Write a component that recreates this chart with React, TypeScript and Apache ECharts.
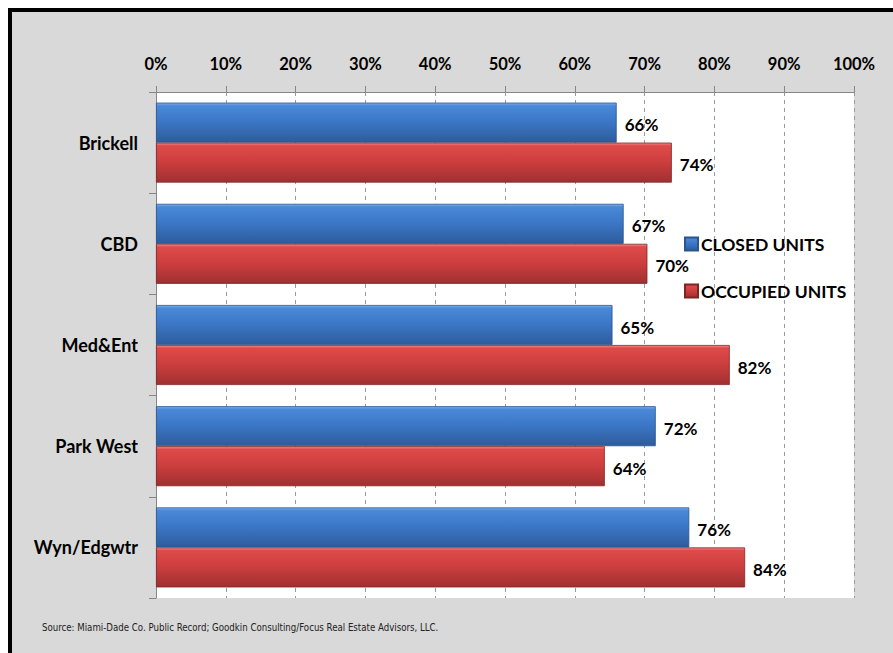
import React, { useEffect, useRef } from "react";
import * as echarts from "echarts";

const categories = ["Brickell", "CBD", "Med&Ent", "Park West", "Wyn/Edgwtr"];
const closedUnits = [0.66, 0.67, 0.654, 0.716, 0.764];
const occupiedUnits = [0.739, 0.704, 0.822, 0.643, 0.844];
const xTicks = [0, 0.1, 0.2, 0.3, 0.4, 0.5, 0.6, 0.7, 0.8, 0.9, 1];
const seriesNames = ["CLOSED UNITS", "OCCUPIED UNITS"];
const sourceText =
  "Source: Miami-Dade Co. Public Record; Goodkin Consulting/Focus Real Estate Advisors, LLC.";

const FONT = "Lato, 'Open Sans', sans-serif";

const grad = (stops: [number, string][]) =>
  new echarts.graphic.LinearGradient(
    0,
    0,
    0,
    1,
    stops.map(([offset, color]) => ({ offset, color }))
  );

const blueFill = () =>
  grad([
    [0, "#7DB0EC"],
    [0.07, "#4A89D8"],
    [0.45, "#3C78C8"],
    [1, "#2E5C9C"],
  ]);
const redFill = () =>
  grad([
    [0, "#F58A8A"],
    [0.07, "#DE4A4A"],
    [0.45, "#CF3F3F"],
    [1, "#A03030"],
  ]);

export default function App() {
  const ref = useRef<HTMLDivElement>(null);

  useEffect(() => {
    if (!ref.current) return;
    const chart = echarts.init(ref.current, undefined, { renderer: "svg" });
    const labelStyle = {
      show: true,
      position: "right" as const,
      distance: 8,
      offset: [0, 2],
      fontFamily: FONT,
      fontWeight: "bold" as const,
      fontSize: 17,
      color: "#000",
      formatter: (p: any) => Math.round(p.value * 100) + "%",
    };
    chart.setOption({
      animation: false,
      backgroundColor: "#ffffff",
      graphic: [
        {
          type: "rect",
          z: -10,
          shape: { x: 8, y: 8, width: 885, height: 645 },
          style: { fill: "#D9D9D9" },
        },
        {
          type: "rect",
          z: -9,
          shape: { x: 8, y: 8, width: 885, height: 4 },
          style: { fill: "#000" },
        },
        {
          type: "rect",
          z: -9,
          shape: { x: 8, y: 8, width: 4, height: 645 },
          style: { fill: "#000" },
        },
        {
          type: "text",
          left: 42,
          top: 622,
          style: {
            text: sourceText,
            fontFamily: "'Liberation Sans Narrow', 'DejaVu Sans Condensed', sans-serif",
            fontSize: 9.6,
            fill: "#222",
          },
        },
      ],
      grid: {
        left: 156,
        top: 92,
        width: 698,
        height: 506,
        show: true,
        backgroundColor: "#ffffff",
        borderWidth: 0,
        z: 0,
      },
      legend: {
        orient: "vertical",
        left: 679,
        top: 229,
        itemWidth: 13,
        itemHeight: 13,
        itemGap: 27,
        icon: "rect",
        data: seriesNames,
        textStyle: {
          fontFamily: FONT,
          fontWeight: "bold",
          fontSize: 17.5,
          lineHeight: 20,
          color: "#000",
          padding: [0, 0, 0, -2],
        },
      },
      xAxis: {
        type: "value",
        position: "top",
        min: 0,
        max: 1,
        interval: 0.1,
        axisLine: { show: true, lineStyle: { color: "#868686", width: 1 } },
        axisTick: { show: true, length: 6, lineStyle: { color: "#868686" } },
        splitLine: {
          show: true,
          lineStyle: { color: "#9A9A9A", type: [4, 4], width: 1 },
        },
        axisLabel: {
          margin: 20,
          fontFamily: FONT,
          fontWeight: "bold",
          fontSize: 16.5,
          color: "#000",
          formatter: (v: number) =>
            xTicks.some((t) => Math.abs(t - v) < 1e-6) ? Math.round(v * 100) + "%" : "",
        },
      },
      yAxis: {
        type: "category",
        inverse: true,
        data: categories,
        axisLine: { show: true, lineStyle: { color: "#868686", width: 1 } },
        axisTick: { show: true, length: 7, lineStyle: { color: "#868686" } },
        splitLine: { show: false },
        axisLabel: {
          margin: 18,
          fontFamily: FONT,
          fontWeight: "bold",
          fontSize: 18,
          color: "#000",
        },
      },
      series: [
        {
          name: seriesNames[0],
          type: "bar",
          data: closedUnits,
          barWidth: 40,
          barGap: "0%",
          itemStyle: { color: blueFill(), borderColor: "#2A5690", borderWidth: 0.8 },
          label: labelStyle,
          z: 3,
        },
        {
          name: seriesNames[1],
          type: "bar",
          data: occupiedUnits,
          barWidth: 40,
          barGap: "0%",
          itemStyle: { color: redFill(), borderColor: "#7E2424", borderWidth: 0.8 },
          label: labelStyle,
          z: 3,
        },
      ],
    });
    return () => chart.dispose();
  }, []);

  return (
    <div
      ref={ref}
      style={{ position: "fixed", left: 0, top: 0, width: 893, height: 653 }}
    />
  );
}
